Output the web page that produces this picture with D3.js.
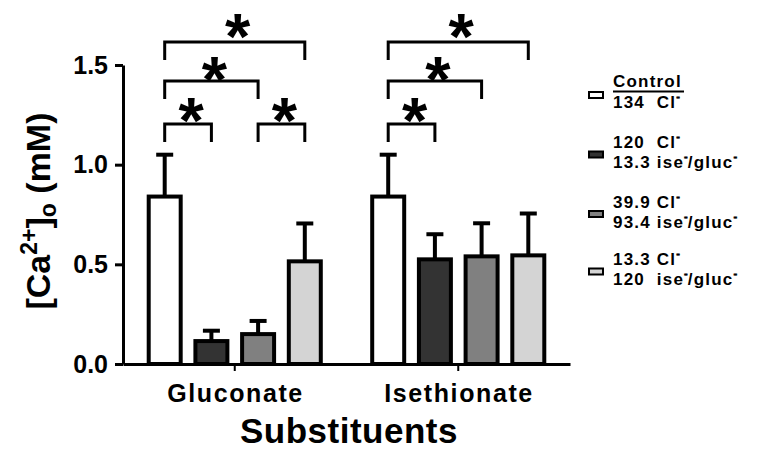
<!DOCTYPE html>
<html><head><meta charset="utf-8">
<script src="https://cdn.jsdelivr.net/npm/d3@7"></script>
<style>
html,body{margin:0;padding:0;background:#fff;}
svg{display:block;font-family:"Liberation Sans",Arial,sans-serif;font-weight:bold;}
text{white-space:pre;}
</style></head>
<body>
<svg id="chart" width="758" height="461"></svg>
<script>
// ---- data ----
const categories = ["Gluconate", "Isethionate"];
const seriesKeys = ["control", "cl120", "cl39", "cl13"];
const seriesColors = ["#ffffff", "#333333", "#808080", "#d4d4d4"];
const meanControl = [0.84, 0.84];
const meanCl120 = [0.115, 0.525];
const meanCl39 = [0.15, 0.54];
const meanCl13 = [0.515, 0.545];
const semControl = [0.21, 0.21];
const semCl120 = [0.052, 0.126];
const semCl39 = [0.066, 0.166];
const semCl13 = [0.19, 0.21];
const yTicks = [0, 0.5, 1.0, 1.5];
const legendLines = [
  ["Control", "134  Cl⁻"],
  ["120  Cl⁻", "13.3 ise⁻/gluc⁻"],
  ["39.9 Cl⁻", "93.4 ise⁻/gluc⁻"],
  ["13.3 Cl⁻", "120  ise⁻/gluc⁻"]
];
// significance comparisons: [category, from series, to series, bracket level]
const comparisons = [
  ["Gluconate", 0, 1, 0], ["Gluconate", 2, 3, 0], ["Gluconate", 0, 2, 1], ["Gluconate", 0, 3, 2],
  ["Isethionate", 0, 1, 0], ["Isethionate", 0, 2, 1], ["Isethionate", 0, 3, 2]
];

const means = [meanControl, meanCl120, meanCl39, meanCl13];
const sems = [semControl, semCl120, semCl39, semCl13];
const table = [];
categories.forEach((c, ci) => seriesKeys.forEach((k, si) => {
  table.push({cat: c, key: k, si, mean: means[si][ci], sem: sems[si][ci]});
}));

const svg = d3.select("#chart");
const x0 = d3.scaleBand().domain(categories).range([123, 570]).paddingInner(0).paddingOuter(0);
const x1 = d3.scaleBand().domain(seriesKeys).range([-93.4, 93.4]).paddingInner(0.315).paddingOuter(0.1575);
const y = d3.scaleLinear().domain([0, 1.5]).range([364, 65]);
const color = d3.scaleOrdinal().domain(seriesKeys).range(seriesColors);
const barX = d => x0(d.cat) + x0.bandwidth() / 2 + x1(d.key);
const barC = d => barX(d) + x1.bandwidth() / 2;

// error bars
const eb = svg.append("g").attr("stroke", "#000").attr("stroke-width", 4);
eb.selectAll("line.v").data(table).join("line")
  .attr("x1", barC).attr("x2", barC)
  .attr("y1", d => y(d.mean)).attr("y2", d => y(d.mean + d.sem));
eb.selectAll("line.c").data(table).join("line")
  .attr("x1", d => barC(d) - 8.5).attr("x2", d => barC(d) + 8.5)
  .attr("y1", d => y(d.mean + d.sem)).attr("y2", d => y(d.mean + d.sem));

// bars
svg.append("g").selectAll("rect").data(table).join("rect")
  .attr("x", barX).attr("width", x1.bandwidth())
  .attr("y", d => y(d.mean)).attr("height", d => y(0) - y(d.mean))
  .attr("fill", d => color(d.key)).attr("stroke", "#000").attr("stroke-width", 4);

// axes
const yAxis = d3.axisLeft(y).tickValues(yTicks).tickFormat(d3.format(".1f")).tickSize(8).tickSizeOuter(0).tickPadding(7);
const gy = svg.append("g").attr("transform", "translate(123,0)").call(yAxis);
gy.select(".domain").attr("stroke-width", 3);
gy.selectAll(".tick line").attr("stroke-width", 3);
gy.selectAll(".tick text").attr("font-size", 25).attr("font-family", "Liberation Sans, Arial, sans-serif").attr("font-weight", "bold").attr("fill", "#000");

const xAxis = d3.axisBottom(x0).tickSize(7).tickSizeOuter(0).tickPadding(13);
const gx = svg.append("g").attr("transform", "translate(0,364)").call(xAxis);
gx.select(".domain").attr("stroke-width", 3);
gx.selectAll(".tick line").attr("stroke-width", 2);
gx.selectAll(".tick text").attr("font-size", 25).attr("font-family", "Liberation Sans, Arial, sans-serif").attr("font-weight", "bold").attr("fill", "#000")
  .attr("letter-spacing", 1.6).attr("dx", 0.8);

// axis titles
svg.append("text").attr("x", 349).attr("y", 443).attr("text-anchor", "middle")
  .attr("font-size", 35).attr("letter-spacing", 0.5).text("Substituents");
const yl = svg.append("text").attr("transform", "translate(50,211) rotate(-90)")
  .attr("text-anchor", "middle").attr("font-size", 34);
yl.append("tspan").text("[Ca");
yl.append("tspan").attr("font-size", 23).attr("dy", -13).text("2+");
yl.append("tspan").attr("dy", 13).text("]");
yl.append("tspan").attr("font-size", 23).attr("dy", 6).text("o");
yl.append("tspan").attr("dy", -6).text(" (mM)");

// significance brackets
const levels = [124, 81, 42];
const starGap = [17, 15, 19];
const starSize = 65;
const sig = svg.append("g");
comparisons.forEach(([cat, a, b, lv]) => {
  const xa = x0(cat) + x0.bandwidth() / 2 + x1(seriesKeys[a]) + x1.bandwidth() / 2;
  const xb = x0(cat) + x0.bandwidth() / 2 + x1(seriesKeys[b]) + x1.bandwidth() / 2;
  const yy = levels[lv];
  sig.append("path").attr("d", `M${xa},${yy + 18}V${yy}H${xb}V${yy + 18}`)
    .attr("fill", "none").attr("stroke", "#000").attr("stroke-width", 3);
  sig.append("text").attr("x", (xa + xb) / 2 + 3)
    .attr("y", yy - starGap[lv] + 0.553 * starSize).attr("text-anchor", "middle")
    .attr("font-size", starSize).text("*");
});

// legend
const lg = svg.append("g");
const legendY = [95, 154.5, 214, 271.5];
function addLine(g, str, x, yb) {
  const t = g.append("text").attr("x", x).attr("y", yb).attr("font-size", 17).attr("letter-spacing", 1.2);
  const parts = str.split("⁻");
  parts.forEach((p, i) => {
    const ts = t.append("tspan").text(p);
    if (i > 0) ts.attr("dy", 8);
    if (i < parts.length - 1) t.append("tspan").attr("font-size", 11).attr("dy", -8).attr("letter-spacing", 0)
      .attr("stroke", "#000").attr("stroke-width", 0.6).text("-");
  });
  return t;
}
seriesKeys.forEach((k, i) => {
  const cy = legendY[i];
  lg.append("rect").attr("x", 589).attr("y", cy - 3).attr("width", 14).attr("height", 6)
    .attr("fill", color(k)).attr("stroke", "#000").attr("stroke-width", 2);
  const lines = legendLines[i];
  if (i === 0) {
    addLine(lg, lines[0], 613, 86.5);
    lg.append("line").attr("x1", 613).attr("x2", 684).attr("y1", 91.5).attr("y2", 91.5).attr("stroke", "#000").attr("stroke-width", 1.8);
    addLine(lg, lines[1], 613, 108.2);
  } else {
    addLine(lg, lines[0], 613, cy - 6.5);
    addLine(lg, lines[1], 613, cy + 13.5);
  }
});
</script>
</body></html>
